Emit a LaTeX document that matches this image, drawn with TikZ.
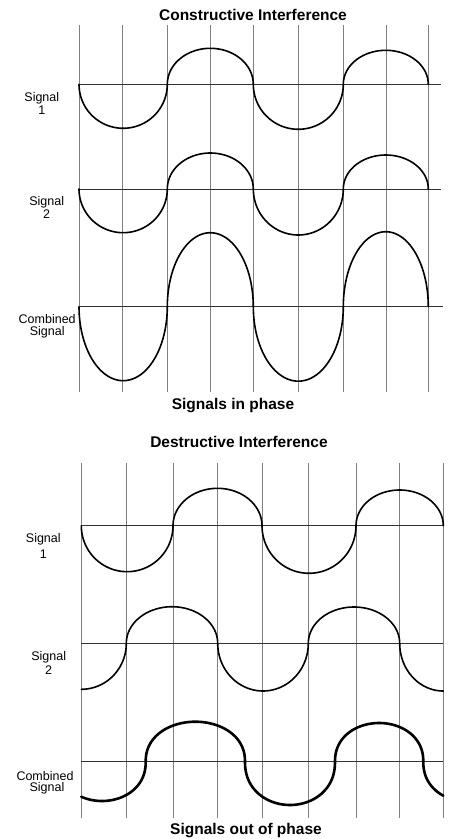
\documentclass[tikz,border=0pt]{standalone}
\usepackage{fontspec}
\setmainfont{Liberation Sans}
\def\wseg#1#2#3#4#5{plot[domain=#4:#5,samples=50] ({#1-#2*cos(\x)},{\ay-#3*sin(\x)})}
\def\wsegc#1#2#3#4#5{-- plot[domain=#4:#5,samples=50] ({#1-#2*cos(\x)},{\ay-#3*sin(\x)})}
\def\wsegq#1#2#3#4#5{plot[domain=#4:#5,samples=60] ({#1-#2*cos(\x)},{\ay-#3*pow(abs(sin(\x))+0.00001,0.9)})}
\def\wsegqc#1#2#3#4#5{-- plot[domain=#4:#5,samples=60] ({#1-#2*cos(\x)},{\ay-#3*pow(abs(sin(\x))+0.00001,0.9)})}
\begin{document}
\begin{tikzpicture}[x=1pt,y=-1pt,
  gridv/.style={draw=black!50,line width=0.9pt},
  gridh/.style={draw=black!80,line width=0.8pt},
  wave/.style={draw=black,line width=1.6pt,line join=round,line cap=round},
  thickwave/.style={draw=black,line width=2.6pt,line join=round,line cap=round},
  title/.style={font=\bfseries\fontsize{15.5}{18}\selectfont,anchor=base,inner sep=0pt},
  lbl/.style={font=\fontsize{12.5}{14}\selectfont,anchor=base,inner sep=0pt}]
\useasboundingbox (0,0) rectangle (449,839);
\fill[white] (0,0) rectangle (449,839);
% ---------- top section ----------
\foreach \X in {79,122.7,167.3,210.3,253.3,298.3,343.3,386,428.3}
  \draw[gridv] (\X,25) -- (\X,392);
\draw[gridh] (79,84.3) -- (441,84.3);
\draw[gridh] (79,189) -- (441,189);
\draw[gridh] (79,306.7) -- (443,306.7);
\def\ay{84.3}
\draw[wave] \wseg{123.15}{44.15}{-44}{0}{180} \wsegc{210.3}{43}{36}{0}{180}
  \wsegc{298.3}{45}{-45}{0}{180} \wsegc{385.8}{42.5}{34}{0}{180};
\def\ay{189}
\draw[wave] \wseg{123.15}{44.15}{-43.7}{0}{180} \wsegc{210.3}{43}{36}{0}{180}
  \wsegc{298.3}{45}{-46}{0}{180} \wsegc{385.8}{42.5}{34}{0}{180};
\def\ay{306.7}
\draw[wave] \wseg{123.15}{44.15}{-74}{0}{180} \wsegc{210.3}{43}{74}{0}{180}
  \wsegc{298.3}{45}{-74.5}{0}{180} \wsegc{385.8}{42.5}{75}{0}{180};
% ---------- bottom section ----------
\foreach \X in {81.3,126.3,173,217.7,262,308.3,356,399.7,443.3}
  \draw[gridv] (\X,463.3) -- (\X,818.3);
\draw[gridh] (81.3,525.7) -- (443.3,525.7);
\draw[gridh] (81.3,643.3) -- (443.3,643.3);
\draw[gridh] (81.3,761.7) -- (443.3,761.7);
\def\ay{525.7}
\draw[wave] \wseg{127.15}{45.85}{-46}{0}{180} \wsegc{217.5}{44.5}{37.4}{0}{180}
  \wsegc{309}{47}{-47.6}{0}{180} \wsegc{399.65}{43.65}{35.7}{0}{180};
\def\ay{643.3}
\draw[wave] \wseg{81.3}{45}{-46}{90}{180} \wsegc{172}{45.7}{36.6}{0}{180}
  \wsegc{263}{45.3}{-47.7}{0}{180} \wsegc{354}{45.7}{36.3}{0}{180}
  \wsegc{443.3}{43.6}{-47.7}{0}{90};
\def\ay{761.7}
\draw[thickwave] \wsegq{102}{43.7}{-39.3}{61.7}{180} \wsegqc{195.35}{49.65}{40}{0}{180}
  \wsegqc{290}{45}{-43.3}{0}{180} \wsegqc{379.15}{44.15}{38.7}{0}{180}
  \wsegqc{467.9}{44.6}{-40}{0}{56.5};
% ---------- texts ----------
\node[title] (t1) at (253,20.7) {Constructive Interference};
\node[title] (t2) at (233,409.5) {Signals in phase};
\node[title] (t3) at (239,447.6) {Destructive Interference};
\node[title] (t4) at (246,834) {Signals out of phase};
\node[lbl] (a1) at (41.8,101.7) {Signal};
\node[lbl] (a1b) at (41.8,114.3) {1};
\node[lbl] (a2) at (46.7,205) {Signal};
\node[lbl] (a2b) at (46.7,218.3) {2};
\node[lbl] (a3) at (47.2,323.3) {Combined};
\node[lbl] (a3b) at (47.2,335) {Signal};
\node[lbl] (b1) at (43.3,542.7) {Signal};
\node[lbl] (b1b) at (43.3,558.3) {1};
\node[lbl] (b2) at (48.7,660.7) {Signal};
\node[lbl] (b2b) at (48.7,674.3) {2};
\node[lbl] (b3) at (45,780) {Combined};
\node[lbl] (b3b) at (47,791.7) {Signal};
\end{tikzpicture}
\end{document}
